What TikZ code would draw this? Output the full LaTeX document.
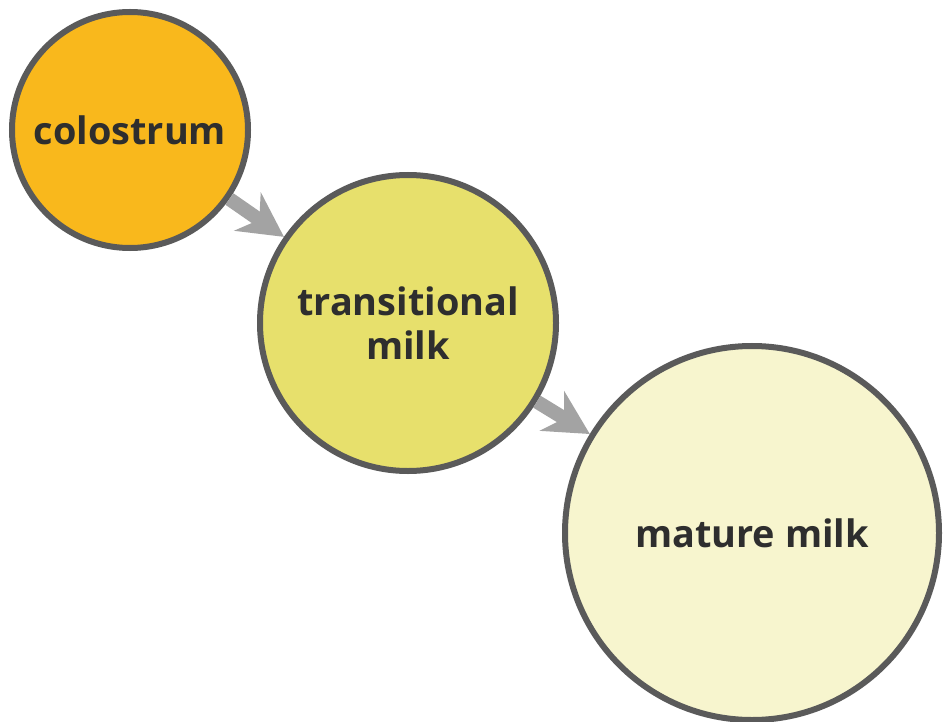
\documentclass[tikz,border=0pt]{standalone}
\usepackage{fontspec}
\setmainfont{Open Sans}
\usepackage{tikz}
\usetikzlibrary{arrows.meta,positioning}

\definecolor{rimgray}{HTML}{5A5A5A}
\definecolor{arrowgray}{HTML}{A3A3A3}
\definecolor{textgray}{HTML}{2E2E2E}
\definecolor{colofill}{HTML}{F9B81C}
\definecolor{transfill}{HTML}{E7E06C}
\definecolor{maturefill}{HTML}{F7F5CE}

\tikzset{
    milkstage/.style={circle, draw=rimgray, line width=6bp, text=textgray, align=center,
        font=\bfseries\fontsize{38}{44}\selectfont, inner sep=0pt},
    flowarrow/.style={draw=arrowgray, line width=14bp,
        -{Stealth[length=44bp, width=46bp, inset=14bp]}}
}

\begin{document}
\begin{tikzpicture}[x=1bp, y=-1bp]
    \useasboundingbox (0,0) rectangle (945,722);

    \node (colostrum) [milkstage, fill=colofill, minimum size=236bp] at (130,130) {colostrum};
    \node (transitional) [milkstage, fill=transfill, minimum size=296bp] at (408,323) {transitional\\milk};
    \node (mature) [milkstage, fill=maturefill, minimum size=374bp] at (752,533) {mature milk};

    \draw[flowarrow] (colostrum) -- (transitional);
    \draw[flowarrow] (transitional) -- (mature);
\end{tikzpicture}
\end{document}
